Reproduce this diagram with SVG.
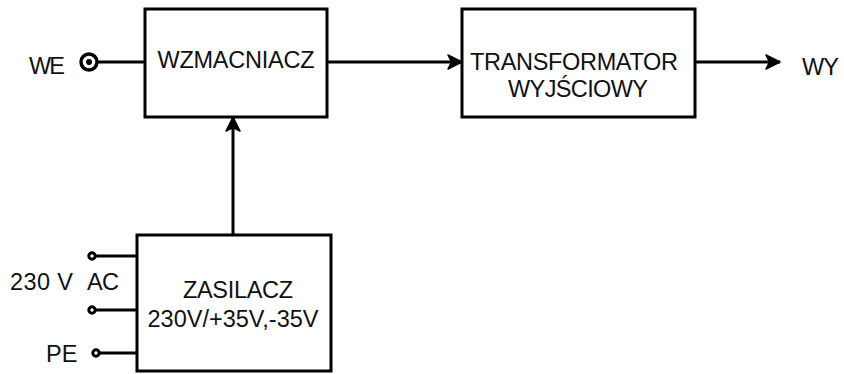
<svg xmlns="http://www.w3.org/2000/svg" width="844" height="374" viewBox="0 0 844 374">
<defs>
<marker id="arr" markerUnits="userSpaceOnUse" markerWidth="18" markerHeight="18" viewBox="0 0 18 18" refX="16" refY="9" orient="auto">
<path d="M2,2 L16,9 L2,16 L5.5,9 z" fill="#000" stroke="#000" stroke-width="1.5" stroke-linejoin="round"/>
</marker>
<style>
.box{fill:#fff;stroke:#000;stroke-width:3}
.ln{fill:none;stroke:#000;stroke-width:3}
.t{font-family:"Liberation Sans",Arial,sans-serif;font-size:23.5px;fill:#111}
.c{text-anchor:middle}
.dot{fill:#fff;stroke:#000;stroke-width:3}
</style>
</defs>
<rect width="844" height="374" fill="#fff"/>
<g id="connectors">
<line class="ln" x1="97" y1="62" x2="145" y2="62"/>
<line class="ln" x1="327" y1="62" x2="462" y2="62" marker-end="url(#arr)"/>
<line class="ln" x1="695" y1="62" x2="780" y2="62" marker-end="url(#arr)"/>
<line class="ln" x1="233" y1="235" x2="233" y2="117" marker-end="url(#arr)"/>
<line class="ln" x1="94" y1="256" x2="137" y2="256"/>
<line class="ln" x1="94" y1="310" x2="137" y2="310"/>
<line class="ln" x1="98" y1="353" x2="137" y2="353"/>
</g>
<g id="we">
<circle cx="89" cy="62" r="8" fill="#fff" stroke="#000" stroke-width="3.5"/>
<circle cx="89" cy="62" r="3" fill="#000"/>
<text class="t" x="29" y="74" textLength="36">WE</text>
</g>
<g id="wzmacniacz">
<rect class="box" x="145" y="9" width="182" height="108"/>
<text class="t c" x="236" y="68" textLength="157">WZMACNIACZ</text>
</g>
<g id="transformator">
<rect class="box" x="462" y="9" width="233" height="108"/>
<text class="t c" x="574" y="70" textLength="208">TRANSFORMATOR</text>
<text class="t c" x="578" y="97" textLength="140">WYJŚCIOWY</text>
</g>
<g id="wy">
<text class="t" x="802" y="75" textLength="37">WY</text>
</g>
<g id="zasilacz">
<rect class="box" x="137" y="235" width="194" height="136"/>
<text class="t c" x="238" y="298" textLength="110">ZASILACZ</text>
<text class="t c" x="233" y="327" textLength="171">230V/+35V,-35V</text>
</g>
<g id="inputs">
<circle class="dot" cx="92" cy="256" r="3.2"/>
<circle class="dot" cx="92" cy="310" r="3.2"/>
<circle class="dot" cx="96" cy="353" r="3.2"/>
<text class="t" x="10" y="290" textLength="63">230 V</text>
<text class="t" x="87" y="290" textLength="32">AC</text>
<text class="t" x="46" y="362">PE</text>
</g>
</svg>
